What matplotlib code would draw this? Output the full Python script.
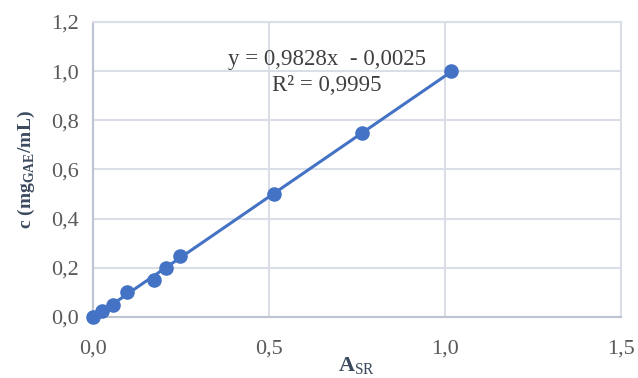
import matplotlib.pyplot as plt
import numpy as np

# calibration points: absorbance vs. concentration
a_sr = [0.0, 0.025, 0.056, 0.096, 0.173, 0.206, 0.247, 0.515, 0.764, 1.017]
conc = [0.0, 0.025, 0.05, 0.10, 0.15, 0.20, 0.25, 0.50, 0.75, 1.00]

slope = 0.9828
intercept = -0.0025
r_squared = 0.9995

x_ticks = [0.0, 0.5, 1.0, 1.5]
y_ticks = [0.0, 0.2, 0.4, 0.6, 0.8, 1.0, 1.2]

BLUE = "#4472C4"
GRID = "#d9dee7"
AXIS = "#bcc4d2"
TICK = "#595959"
LABEL = "#3b4a5e"

plt.rcParams["font.family"] = ["Liberation Serif", "DejaVu Serif"]
plt.rcParams["mathtext.fontset"] = "custom"
plt.rcParams["mathtext.rm"] = "Liberation Serif"
plt.rcParams["mathtext.bf"] = "Liberation Serif:bold"

fig = plt.figure(figsize=(6.38, 3.78), dpi=100)
ax = fig.add_axes([0.1458, 0.1614, 0.9734 - 0.1458, 0.9418 - 0.1614])

xs = np.array([min(a_sr), max(a_sr)])
ax.plot(xs, slope * xs + intercept, color=BLUE, linewidth=2.2, zorder=3)
ax.scatter(a_sr, conc, s=90, color=BLUE, zorder=4, clip_on=False)

ax.set_xlim(0, 1.5)
ax.set_ylim(0, 1.2)
ax.set_xticks(x_ticks)
ax.set_yticks(y_ticks)
ax.set_xticklabels([f"{v:.1f}".replace(".", ",") for v in x_ticks])
ax.set_yticklabels([f"{v:.1f}".replace(".", ",") for v in y_ticks])
ax.tick_params(length=0, labelsize=16, colors=TICK)
ax.tick_params(axis="y", pad=10)
ax.tick_params(axis="x", pad=16)

ax.grid(True, color=GRID, linewidth=1.5, zorder=0)
ax.set_axisbelow(True)
for side in ("top", "right"):
    ax.spines[side].set_color(GRID)
    ax.spines[side].set_linewidth(1.5)
for side in ("left", "bottom"):
    ax.spines[side].set_color(AXIS)
    ax.spines[side].set_linewidth(1.5)

ax.set_xlabel(r"$\mathbf{A}_{\mathrm{SR}}$", fontsize=16, color=LABEL)
ax.xaxis.set_label_coords(0.5, -0.13)
ax.set_ylabel(r"c (mg$_{\mathbf{GAE}}$/mL)", fontsize=14, color=LABEL,
              fontweight="bold", labelpad=10)

eq = f"y = {slope:.4f}x  - {abs(intercept):.4f}".replace(".", ",")
r2 = f"R² = {r_squared:.4f}".replace(".", ",")
ax.text(0.665, 1.046, eq, fontsize=16.5, color="#404040", ha="center", va="center")
ax.text(0.665, 0.94, r2, fontsize=16.5, color="#404040", ha="center", va="center")

fig.savefig("out.png", dpi=100, facecolor="white")
